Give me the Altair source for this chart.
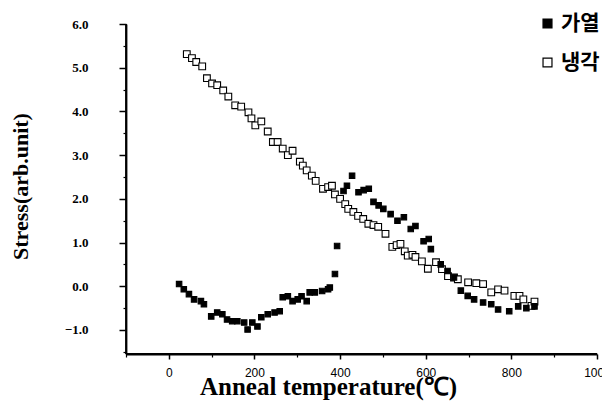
import altair as alt
import pandas as pd

# 가열 (heating) - filled squares
heat_x = [24, 35, 47, 59, 75, 82, 99, 113, 125, 136, 148, 160, 176, 184, 195, 207, 216, 231, 247, 259,
          266, 278, 289, 301, 310, 322, 329, 341, 358, 372, 376, 388, 393, 408, 416, 428, 443, 455, 467,
          478, 490, 501, 518, 534, 549, 565, 576, 595, 607, 612, 635, 651, 666, 682, 698, 713, 734, 753,
          769, 795, 816, 835, 854]
heat_y = [0.05, -0.07, -0.18, -0.30, -0.34, -0.41, -0.69, -0.60, -0.64, -0.76, -0.80, -0.80, -0.83, -0.99,
          -0.83, -0.92, -0.71, -0.64, -0.60, -0.57, -0.25, -0.23, -0.34, -0.30, -0.23, -0.34, -0.14, -0.14,
          -0.11, -0.07, -0.03, 0.28, 0.92, 2.18, 2.30, 2.53, 2.15, 2.20, 2.23, 1.93, 1.85, 1.77, 1.65, 1.50,
          1.58, 1.31, 1.38, 1.03, 1.08, 0.85, 0.50, 0.35, 0.20, -0.10, -0.22, -0.30, -0.37, -0.41, -0.53,
          -0.57, -0.46, -0.50, -0.46]

# 냉각 (cooling) - open squares
cool_x = [42, 54, 64, 78, 89, 101, 113, 127, 139, 155, 169, 186, 193, 202, 216, 231, 243, 254, 266, 278,
          289, 306, 313, 322, 334, 343, 360, 372, 381, 388, 400, 412, 419, 431, 442, 454, 466, 478, 489,
          506, 522, 532, 541, 551, 558, 569, 576, 591, 605, 624, 638, 652, 666, 675, 699, 718, 734, 753,
          769, 784, 807, 819, 828, 847, 854]
cool_y = [5.31, 5.22, 5.13, 5.03, 4.76, 4.64, 4.60, 4.48, 4.34, 4.14, 4.11, 3.98, 3.84, 3.68, 3.77, 3.54,
          3.30, 3.30, 3.15, 3.00, 3.10, 2.85, 2.76, 2.65, 2.53, 2.41, 2.23, 2.27, 2.30, 2.10, 2.00, 1.88,
          1.77, 1.70, 1.61, 1.54, 1.43, 1.40, 1.36, 1.20, 0.90, 0.94, 0.97, 0.80, 0.70, 0.72, 0.67, 0.57,
          0.40, 0.55, 0.39, 0.23, 0.20, 0.16, 0.09, 0.07, 0.05, -0.14, -0.07, -0.10, -0.22, -0.22, -0.30,
          -0.45, -0.35]

series_names = ["가열", "냉각"]
x_major = [0, 200, 400, 600, 800, 1000]
x_minor = [-100, 100, 300, 500, 700, 900]
y_major = [-1, 0, 1, 2, 3, 4, 5, 6]
y_minor = [-1.5, -0.5, 0.5, 1.5, 2.5, 3.5, 4.5, 5.5]

W, H = 471, 330

df = pd.concat([
    pd.DataFrame({"T": cool_x, "S": cool_y, "series": series_names[1]}),
    pd.DataFrame({"T": heat_x, "S": heat_y, "series": series_names[0]}),
], ignore_index=True)

xscale = alt.Scale(domain=[-100, 1000], nice=False, zero=False)
yscale = alt.Scale(domain=[-1.55, 6.0], nice=False, zero=False)

main = alt.Chart(df).mark_point(shape="square", filled=True, stroke="black", strokeWidth=1.1, opacity=1).encode(
    x=alt.X("T:Q", scale=xscale,
            axis=alt.Axis(orient="bottom", values=x_major, format="d", title="Anneal  temperature(℃)",
                          grid=False, domain=True, domainColor="black", domainWidth=1.8, tickColor="black",
                          tickSize=5, tickWidth=1.5, labelFont="Liberation Sans", labelFontSize=12,
                          labelColor="black", labelPadding=8, labelFlush=False,
                          titleFont="Liberation Serif", titleFontSize=25, titleFontWeight="bold",
                          titleColor="black", titleX=202, titleY=32, titleBaseline="middle")),
    y=alt.Y("S:Q", scale=yscale,
            axis=alt.Axis(orient="left", values=y_major, format=".1f", title="Stress(arb.unit)",
                          grid=False, domain=True, domainColor="black", domainWidth=1.8, tickColor="black",
                          tickSize=7, tickWidth=1.5, labelFont="Liberation Serif", labelFontSize=13,
                          labelFontWeight="bold", labelColor="black", labelPadding=31,
                          titleFont="Liberation Serif", titleFontSize=22, titleFontWeight="bold",
                          titleColor="black", titleX=-106, titleY=162, titleAngle=-90,
                          titleBaseline="middle", titleAlign="center")),
    fill=alt.Fill("series:N", scale=alt.Scale(domain=series_names, range=["black", "white"]),
                  legend=alt.Legend(title=None, orient="none", legendX=411, legendY=-11,
                                    symbolType="square", symbolSize=80, symbolStrokeColor="black",
                                    symbolStrokeWidth=1.2, labelFont="Noto Sans CJK KR",
                                    labelFontSize=21, labelFontWeight="bold", labelColor="black",
                                    rowPadding=17, labelOffset=3)),
    size=alt.condition(alt.datum.series == series_names[0], alt.value(30), alt.value(45)),
)

minor = alt.Chart(df).mark_point(opacity=0).encode(
    x=alt.X("T:Q", scale=xscale,
            axis=alt.Axis(values=x_minor, labels=False, title=None, grid=False, domain=False,
                          tickColor="black", tickSize=3, tickWidth=1.2, orient="bottom")),
    y=alt.Y("S:Q", scale=yscale,
            axis=alt.Axis(values=y_minor, labels=False, title=None, grid=False, domain=False,
                          tickColor="black", tickSize=3, tickWidth=1.2, orient="left")),
)

frame = pd.DataFrame({"k": [0]})
left_line = alt.Chart(frame).mark_rule(color="black", strokeWidth=1.8).encode(
    x=alt.value(0), y=alt.value(0), y2=alt.value(H))
bottom_line = alt.Chart(frame).mark_rule(color="black", strokeWidth=1.8).encode(
    x=alt.value(0), x2=alt.value(W), y=alt.value(H))

chart = alt.layer(minor, main, left_line, bottom_line).resolve_axis(
    x="independent", y="independent").properties(
    width=W, height=H,
    autosize=alt.AutoSizeParams(type="none"),
    padding={"left": 118, "top": 16, "right": 5, "bottom": 48},
    background="white",
).configure_view(stroke=None)

chart.save("out.html", embed_options={"renderer": "svg", "actions": False})
